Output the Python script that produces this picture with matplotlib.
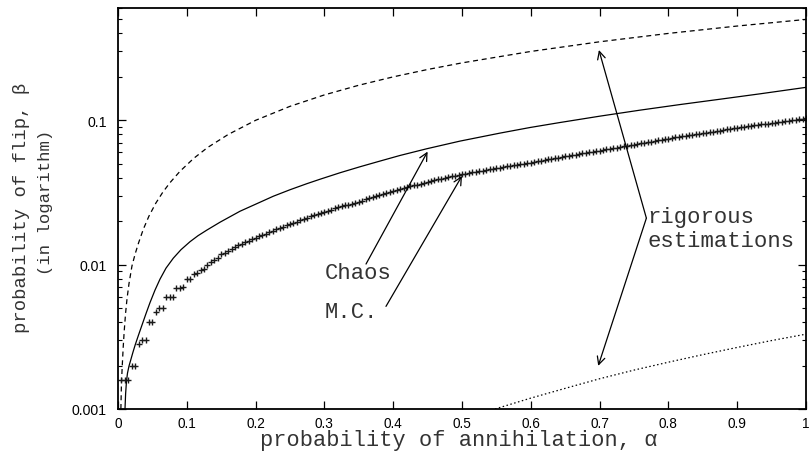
import matplotlib
matplotlib.use("Agg")
import matplotlib.pyplot as plt
from matplotlib.ticker import FixedLocator, NullFormatter, LogLocator

# ---------------- data ----------------
# rigorous estimation (upper, dashed)
upper_alpha = [0.0042, 0.0050, 0.0062, 0.0075, 0.0090, 0.0110, 0.0131, 0.0160, 0.0203, 0.0250,
               0.0300, 0.0368, 0.045, 0.055, 0.065, 0.0756, 0.09, 0.11, 0.13, 0.16,
               0.20, 0.25, 0.30, 0.35, 0.40, 0.45, 0.50, 0.60, 0.70, 0.80, 0.90, 1.00]
upper_beta = [0.00100, 0.00150, 0.00200, 0.00265, 0.00345, 0.00460, 0.00580, 0.00740, 0.00980, 0.01190,
              0.01420, 0.01760, 0.0217, 0.0267, 0.0317, 0.0370, 0.0443, 0.0545, 0.0647, 0.0797,
              0.100, 0.125, 0.150, 0.175, 0.200, 0.225, 0.250, 0.300, 0.350, 0.400, 0.450, 0.500]

# chaos (solid)
chaos_alpha = [0.01017, 0.01105, 0.01235, 0.01381, 0.01599, 0.01890, 0.02180, 0.02515, 0.02980, 0.03488,
               0.04070, 0.04651, 0.05378, 0.06105, 0.06977, 0.08038, 0.09157, 0.10465, 0.11628, 0.12892,
               0.14826, 0.17733, 0.20640, 0.22573, 0.25000, 0.27427, 0.29360, 0.32267, 0.35174, 0.38081,
               0.40988, 0.44869, 0.49709, 0.55523, 0.59884, 0.64244, 0.70058, 0.75872, 0.81686, 0.87500,
               0.93314, 1.00000]
chaos_beta = [0.001000, 0.001270, 0.001563, 0.001774, 0.001984, 0.002218, 0.002480, 0.002796, 0.003251, 0.003815,
              0.004580, 0.005458, 0.006663, 0.007937, 0.009459, 0.01109, 0.01270, 0.01442, 0.01587, 0.01733,
              0.01968, 0.02345, 0.02707, 0.02979, 0.03304, 0.03636, 0.03906, 0.04332, 0.04767, 0.05220,
              0.05708, 0.06352, 0.07178, 0.08154, 0.08916, 0.09656, 0.1069, 0.1176, 0.1286, 0.1400,
              0.1526, 0.1692]

# rigorous estimation (lower, dotted)
lower_alpha = [0.548, 0.6, 0.65, 0.7, 0.75, 0.8, 0.85, 0.9, 0.95, 1.0]
lower_beta = [0.00100, 0.00119, 0.00139, 0.00162, 0.00186, 0.00211, 0.00238, 0.00267, 0.00298, 0.00330]

# Monte-Carlo points (sampled every 0.005 in alpha)
mc_alpha = [round(0.005 * k, 3) for k in range(1, 201)]
mc_beta = [
    0.0016, 0.0016, 0.0016, 0.0020, 0.0020, 0.0028, 0.0030, 0.0030, 0.0040, 0.0040,
    0.0047, 0.0050, 0.0050, 0.0060, 0.0060, 0.0060, 0.0069, 0.0069, 0.0070, 0.0079,
    0.0080, 0.0086, 0.0087, 0.0092, 0.0093, 0.0100, 0.0104, 0.0108, 0.0112, 0.0118,
    0.0121, 0.0125, 0.0128, 0.0132, 0.0137, 0.0140, 0.0143, 0.0147, 0.0150, 0.0153,
    0.0157, 0.0160, 0.0164, 0.0168, 0.0172, 0.0176, 0.0179, 0.0183, 0.0187, 0.0190,
    0.0195, 0.0199, 0.0203, 0.0208, 0.0212, 0.0216, 0.0220, 0.0225, 0.0229, 0.0233,
    0.0237, 0.0241, 0.0245, 0.0249, 0.0253, 0.0257, 0.0261, 0.0265, 0.0269, 0.0273,
    0.0278, 0.0283, 0.0288, 0.0293, 0.0298, 0.0302, 0.0307, 0.0312, 0.0317, 0.0322,
    0.0327, 0.0333, 0.0338, 0.0343, 0.0349, 0.0354, 0.0359, 0.0364, 0.0370, 0.0375,
    0.0380, 0.0385, 0.0390, 0.0394, 0.0399, 0.0404, 0.0409, 0.0414, 0.0418, 0.0423,
    0.0427, 0.0432, 0.0436, 0.0440, 0.0444, 0.0449, 0.0453, 0.0457, 0.0462, 0.0466,
    0.0470, 0.0475, 0.0479, 0.0484, 0.0488, 0.0492, 0.0497, 0.0501, 0.0506, 0.0510,
    0.0515, 0.0520, 0.0525, 0.0531, 0.0536, 0.0541, 0.0546, 0.0552, 0.0557, 0.0562,
    0.0568, 0.0573, 0.0579, 0.0584, 0.0590, 0.0595, 0.0601, 0.0606, 0.0612, 0.0617,
    0.0623, 0.0629, 0.0635, 0.0641, 0.0648, 0.0654, 0.0660, 0.0666, 0.0672, 0.0678,
    0.0685, 0.0692, 0.0699, 0.0706, 0.0713, 0.0720, 0.0727, 0.0734, 0.0741, 0.0748,
    0.0755, 0.0761, 0.0768, 0.0775, 0.0781, 0.0788, 0.0795, 0.0802, 0.0808, 0.0815,
    0.0822, 0.0829, 0.0836, 0.0843, 0.0850, 0.0857, 0.0864, 0.0871, 0.0878, 0.0885,
    0.0892, 0.0900, 0.0907, 0.0914, 0.0921, 0.0928, 0.0936, 0.0943, 0.0950, 0.0957,
    0.0965, 0.0973, 0.0981, 0.0988, 0.0996, 0.1004, 0.1012, 0.1020, 0.1027, 0.1035,
]

x_ticks = [0, 0.1, 0.2, 0.3, 0.4, 0.5, 0.6, 0.7, 0.8, 0.9, 1.0]
x_tick_labels = ["0", "0.1", "0.2", "0.3", "0.4", "0.5", "0.6", "0.7", "0.8", "0.9", "1"]
y_ticks = [0.001, 0.01, 0.1]
y_tick_labels = ["0.001", "0.01", "0.1"]

# ---------------- figure ----------------
W, H, DPI = 809, 452, 100
fig = plt.figure(figsize=(W / DPI, H / DPI), dpi=DPI)
ax = fig.add_axes([118 / W, 1 - 410 / H, (806 - 118) / W, (410 - 9) / H])

ax.set_yscale("log")
ax.set_xlim(0, 1)
ax.set_ylim(0.001, 0.6)

ax.plot(upper_alpha, upper_beta, color="black", lw=0.9, dashes=(4, 3))
ax.plot(chaos_alpha, chaos_beta, color="black", lw=0.9)
ax.plot(lower_alpha, lower_beta, color="black", lw=0.9, dashes=(1.2, 2.0))
ax.plot(mc_alpha, mc_beta, ls="none", marker="+", ms=5, mew=1.0, color="#1a1a1a")

mono = "Liberation Mono"
sans = "Liberation Sans"

ax.set_xticks(x_ticks)
ax.set_xticklabels(x_tick_labels, fontfamily=sans, fontsize=9.8)
ax.yaxis.set_major_locator(FixedLocator(y_ticks))
ax.set_yticklabels(y_tick_labels, fontfamily=sans, fontsize=10.2)
ax.yaxis.set_minor_locator(LogLocator(base=10, subs=range(2, 10)))
ax.yaxis.set_minor_formatter(NullFormatter())

ax.tick_params(axis="both", which="major", direction="in", length=6, width=0.9,
               top=True, right=True)
ax.tick_params(axis="x", which="major", pad=5)
ax.tick_params(axis="y", which="major", pad=8)
ax.tick_params(axis="both", which="minor", direction="in", length=3, width=0.8,
               top=True, right=True)
for s in ax.spines.values():
    s.set_linewidth(1.3)

# axis labels
fig.text(459 / W, 1 - 446 / H, "probability of annihilation, \u03b1", fontfamily=mono,
         fontsize=15.8, ha="center", va="baseline", color="#333333")
fig.text(22 / W, 1 - 208 / H, "probability of flip, \u03b2", fontfamily=mono,
         fontsize=13.6, ha="center", va="center", rotation=90, color="#333333")
fig.text(46 / W, 1 - 202 / H, "(in logarithm)", fontfamily=mono,
         fontsize=12.4, ha="center", va="center", rotation=90, color="#333333")

# annotations
ap = dict(arrowstyle="->", lw=0.9, color="black", mutation_scale=14, shrinkA=0, shrinkB=0)
ax.annotate("", xy=(0.450, 0.0607), xytext=(0.3605, 0.0101), arrowprops=ap)
ax.annotate("", xy=(0.500, 0.0412), xytext=(0.3895, 0.00514), arrowprops=ap)
ax.annotate("", xy=(0.699, 0.307), xytext=(0.768, 0.0210), arrowprops=ap)
ax.annotate("", xy=(0.698, 0.00199), xytext=(0.768, 0.0210), arrowprops=ap)

tkw = dict(fontfamily=mono, fontsize=16.0, ha="left", va="center", color="#333333")
ax.text(0.301, 0.0088, "Chaos", **tkw)
ax.text(0.301, 0.00477, "M.C.", **tkw)
ax.text(0.770, 0.0215, "rigorous", **tkw)
ax.text(0.770, 0.0148, "estimations", **tkw)

fig.savefig("out.png", dpi=DPI)
